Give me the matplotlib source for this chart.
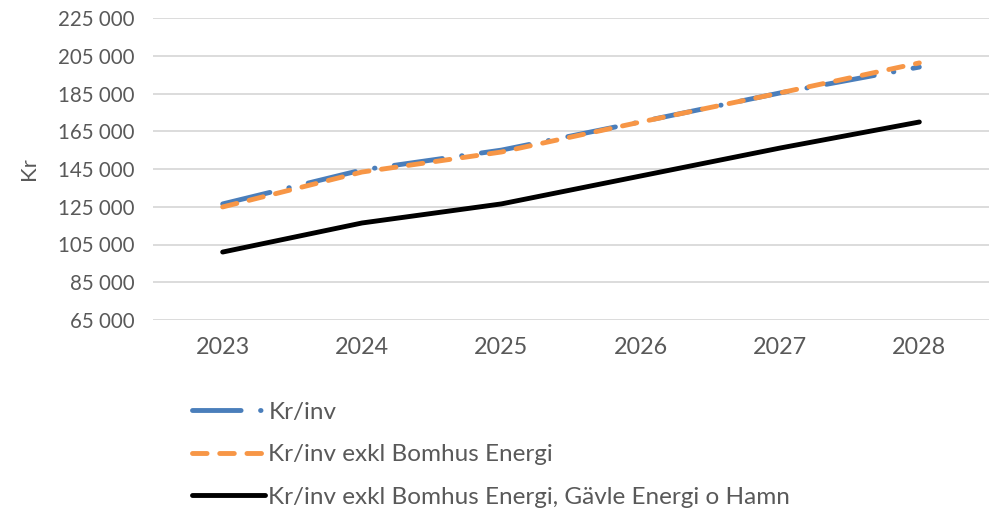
import matplotlib
matplotlib.use("Agg")
import matplotlib.pyplot as plt

# data
years = ["2023", "2024", "2025", "2026", "2027", "2028"]
kr_inv = [126500, 144500, 155000, 170000, 185300, 199000]
kr_exkl_bomhus = [124900, 143400, 154000, 169900, 185300, 201200]
kr_exkl_alla = [101000, 116400, 126500, 141300, 156100, 169900]
y_ticks = [65000, 85000, 105000, 125000, 145000, 165000, 185000, 205000, 225000]

plt.rcParams["font.family"] = ["Lato", "DejaVu Sans"]
grey = "#595959"

fig = plt.figure(figsize=(9.89, 5.14), dpi=100)
ax = fig.add_axes([153 / 989, 1 - 320 / 514, 1 - 153 / 989, (320 - 18) / 514])

x = range(len(years))
ax.plot(x, kr_inv, color="#4a7ebb", lw=3.5, dashes=(10, 4, 0.1, 4),
        dash_capstyle="round", label="Kr/inv", zorder=3)
ax.plot(x, kr_exkl_bomhus, color="#f79646", lw=3.5, dashes=(3, 2.6),
        dash_capstyle="round", label="Kr/inv exkl Bomhus Energi", zorder=4)
ax.plot(x, kr_exkl_alla, color="black", lw=3.5, solid_capstyle="round",
        label="Kr/inv exkl Bomhus Energi, Gävle Energi o Hamn", zorder=3)

ax.set_xlim(-0.5, len(years) - 0.5)
ax.set_ylim(y_ticks[0], y_ticks[-1])
ax.set_yticks(y_ticks)
ax.set_yticklabels([f"{v:,}".replace(",", " ") for v in y_ticks], fontsize=14.8, color=grey)
ax.set_xticks(list(x))
ax.set_xticklabels(years, fontsize=16.8, color=grey)
ax.tick_params(length=0)
ax.tick_params(axis="y", pad=13)
ax.tick_params(axis="x", pad=12)
ax.grid(axis="y", color="#d9d9d9", lw=1.3)
ax.set_axisbelow(True)
for s in ax.spines.values():
    s.set_visible(False)
ax.set_ylabel("Kr", fontsize=16, color=grey, labelpad=14)

fig.legend(loc="upper left", bbox_to_anchor=(170 / 989, 1 - 380 / 514), frameon=False,
           fontsize=17.5, labelcolor=grey, handlelength=3.0, handletextpad=0.15,
           labelspacing=0.88)

fig.savefig("out.png", dpi=100)
